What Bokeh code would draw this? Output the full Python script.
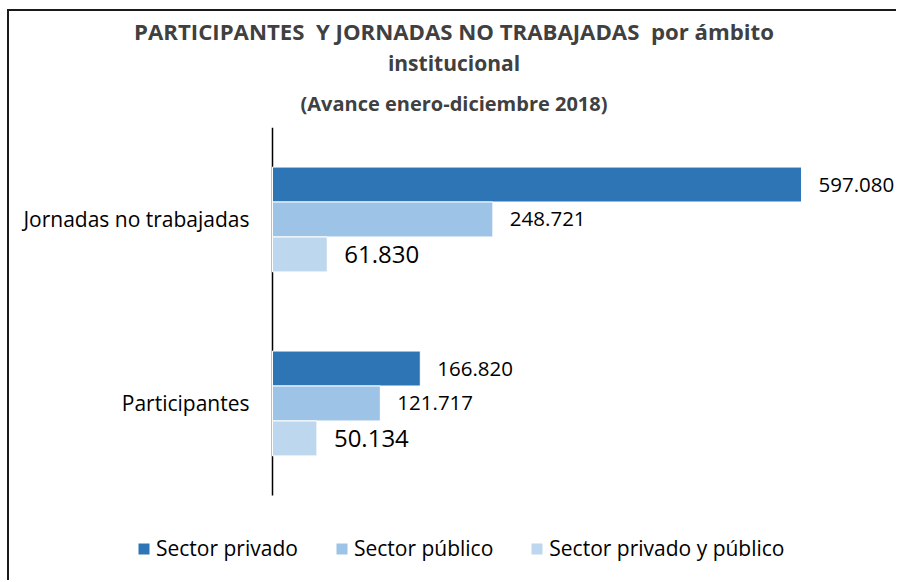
from bokeh.plotting import figure
from bokeh.models import ColumnDataSource, Range1d, Legend, LegendItem, Title
from bokeh.transform import dodge
from bokeh.core.properties import value
from bokeh.embed import file_html
from bokeh.resources import INLINE

categories = ["Participantes", "Jornadas no trabajadas"]
series_names = ["Sector privado", "Sector público", "Sector privado y público"]
sector_privado = [166820, 597080]
sector_publico = [121717, 248721]
sector_mixto = [50134, 61830]
value_labels_privado = ["166.820", "597.080"]
value_labels_publico = ["121.717", "248.721"]
value_labels_mixto = ["50.134", "61.830"]

colors = ["#2E75B6", "#9DC3E6", "#BDD7EE"]
FONT = "Open Sans"

# category slots: one unit per category
ycat = [i + 0.5 for i in range(len(categories))]

p = figure(width=889, height=571, output_backend="svg", toolbar_location=None,
           x_range=Range1d(-296850, 706570), y_range=Range1d(-0.473, len(categories)),
           min_border_left=0, min_border_right=0, min_border_top=116, min_border_bottom=0,
           title=None,
           styles={"margin-left": "9px", "margin-top": "11px",
                   "box-shadow": "-2px -2px 0 #1a1a1a"})

p.xaxis.visible = False
p.yaxis.visible = False
p.xgrid.visible = False
p.ygrid.visible = False
p.outline_line_color = None

src = ColumnDataSource(dict(cat=categories, ycat=ycat,
                            priv=sector_privado, pub=sector_publico, mix=sector_mixto,
                            lpriv=value_labels_privado, lpub=value_labels_publico, lmix=value_labels_mixto))

# category axis line and its labels
p.segment(x0=0, y0=0, x1=0, y1=len(categories), line_color="black", line_width=1.5)
p.text(x=0, y="ycat", text="cat", source=src, x_offset=-23,
       text_align="right", text_baseline="middle",
       text_font=value(FONT), text_font_size="21px", text_color="black")

offsets = [0.19, 0.0, -0.19]
fields = ["priv", "pub", "mix"]
lfields = ["lpriv", "lpub", "lmix"]
sizes = ["20.5px", "20.5px", "24px"]
renderers = []
for f, lf, off, col, sz in zip(fields, lfields, offsets, colors, sizes):
    r = p.hbar(y=dodge("ycat", off), right=f, left=0, height=0.19,
               source=src, fill_color=col, line_color="white", line_width=1)
    renderers.append(r)
    p.text(x=f, y=dodge("ycat", off), text=lf, source=src,
           x_offset=17, text_align="left", text_baseline="middle",
           text_font=value(FONT), text_font_size=sz, text_color="black")

legend = Legend(items=[LegendItem(label=n, renderers=[r]) for n, r in zip(series_names, renderers)],
                orientation="horizontal", location=(127, 20),
                glyph_width=15, glyph_height=15, label_standoff=5, spacing=36,
                padding=0, margin=0, border_line_color=None, background_fill_alpha=0,
                label_text_font=FONT, label_text_font_size="21px", label_text_color="black")
p.add_layout(legend, "center")

title_lines = ["(Avance enero-diciembre 2018)", "institucional",
               "PARTICIPANTES \u00a0Y JORNADAS NO TRABAJADAS \u00a0por ámbito"]
title_sizes = ["20px", "21px", "22.2px"]
title_standoffs = [22, 0, 0]
title_line_heights = [0.85, 0.85, 0.9]
for t, sz, so, lh in zip(title_lines, title_sizes, title_standoffs, title_line_heights):
    p.add_layout(Title(text=t, align="center", offset=2.5, text_font=FONT,
                       text_font_size=sz, text_font_style="bold", text_color="#404040",
                       text_line_height=lh, standoff=so), "above")

open("out.html", "w").write(file_html(p, INLINE))
